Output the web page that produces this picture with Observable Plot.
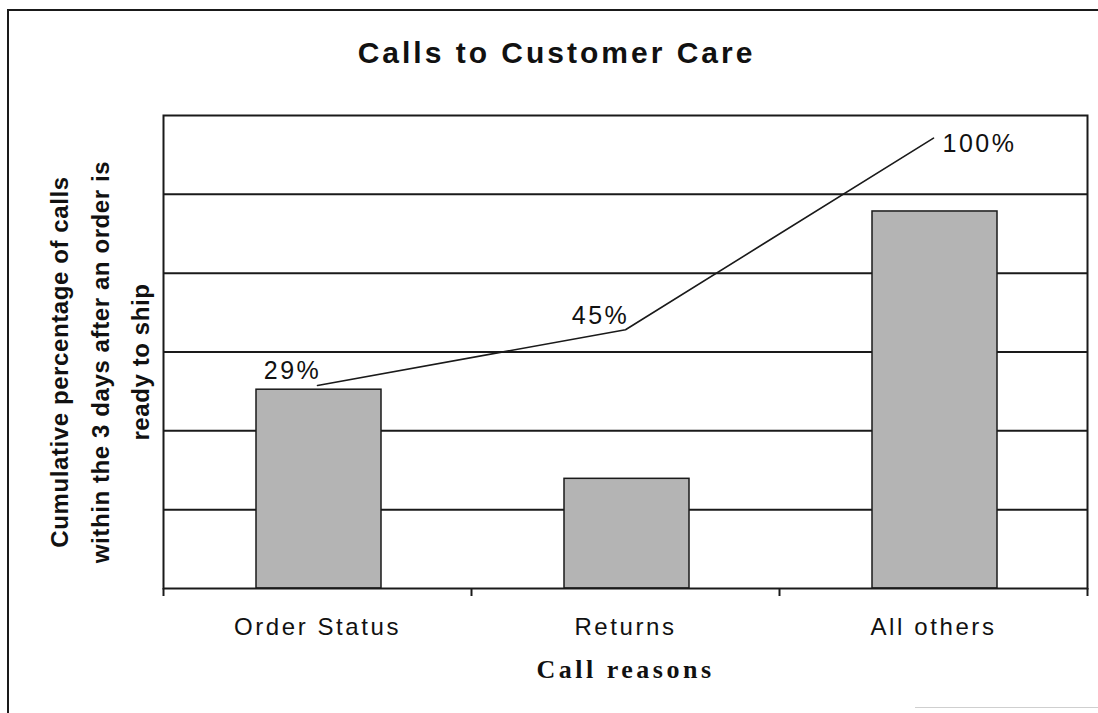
<!DOCTYPE html>
<html>
<head>
<meta charset="utf-8">
<script src="https://cdn.jsdelivr.net/npm/d3@7"></script>
<script src="https://cdn.jsdelivr.net/npm/@observablehq/plot@0.6"></script>
<style>
html, body { margin: 0; padding: 0; background: #fff; }
#wrap { position: relative; width: 1098px; height: 713px; overflow: hidden; background: #fff; }
#wrap svg { position: absolute; left: 0; top: 0; }
#edgeLeft { position: absolute; left: 7px; top: 9px; width: 2px; height: 720px; background: #1a1a1a; }
#edgeTop { position: absolute; left: 7px; top: 9px; width: 1100px; height: 2px; background: #1a1a1a; }
#edgeBottom { position: absolute; left: 915px; top: 707px; width: 190px; height: 1px; background: #cfcfcf; }
</style>
</head>
<body>
<div id="wrap"></div>
<script>
// ---- data ----
const chartTitle = "Calls to Customer Care";
const xLabel = "Call reasons";
const yLabelLines = ["Cumulative percentage of calls", "within the 3 days after an order is", "ready to ship"];
const categories = ["Order Status", "Returns", "All others"];
const shares = [29, 16, 55];        // share of calls per reason (bars, primary axis, %)
const cumulative = [29, 45, 100];   // cumulative share (line, hidden secondary axis, %)
const yDomain = [0, 69];            // primary (hidden) axis range
const gridTicks = [11.5, 23, 34.5, 46, 57.5];
const secondaryDomain = [-29.3, 106.5]; // hidden secondary axis range for the cumulative line

// ---- build ----
const rows = categories.map((c, i) => ({category: c, idx: i, share: shares[i], cum: cumulative[i]}));
const secondary = d3.scaleLinear().domain(secondaryDomain).range(yDomain);
const boundaries = d3.range(categories.length + 1);
const centers = categories.map((c, i) => i + 0.5);
const ink = "#1a1a1a";

const chart = Plot.plot({
  width: 1098,
  height: 713,
  marginLeft: 163,
  marginRight: 11,
  marginTop: 115,
  marginBottom: 125,
  style: {fontFamily: "'Liberation Sans', Arial, sans-serif", background: "transparent", color: "#111", overflow: "visible"},
  x: {type: "linear", domain: [0, categories.length], axis: null, label: null},
  y: {domain: yDomain, axis: null, label: null},
  marks: [
    Plot.ruleY(gridTicks, {stroke: ink, strokeWidth: 2}),
    Plot.rectY(rows, {x1: "idx", x2: d => d.idx + 1, y: "share", insetLeft: 93, insetRight: 90,
      fill: "#b4b4b4", stroke: ink, strokeWidth: 1.5}),
    Plot.frame({stroke: ink, strokeWidth: 2}),
    Plot.axisX(boundaries, {tickSize: 8, tickFormat: () => "", label: null, stroke: ink, strokeWidth: 2}),
    Plot.axisX(centers, {tickSize: 0, tickPadding: 29, label: null, tickFormat: v => categories[Math.floor(v)],
      fontSize: 24, fill: "#111"}),
    Plot.line(rows, {x: d => d.idx + 0.5, y: d => secondary(d.cum), stroke: ink, strokeWidth: 1.6}),
    Plot.text(rows.slice(0, 2), {x: d => d.idx + 0.5, y: d => secondary(d.cum), text: d => d.cum + "%",
      dx: -25, dy: -6, lineAnchor: "bottom", fontSize: 25, fill: "#111"}),
    Plot.text(rows.slice(2), {x: d => d.idx + 0.5, y: d => secondary(d.cum), text: d => d.cum + "%",
      textAnchor: "start", dx: 9, dy: 6, lineAnchor: "middle", fontSize: 25, fill: "#111"}),
    Plot.text([chartTitle], {frameAnchor: "top", dx: -69, dy: -53, lineAnchor: "bottom",
      fontSize: 30, fontWeight: "bold", fill: "#111"}),
    Plot.text([yLabelLines.join("\n")], {frameAnchor: "left", rotate: -90, textAnchor: "middle", dx: -68, dy: 10,
      lineAnchor: "middle", lineHeight: 1.7, fontSize: 24, fontWeight: "bold", fill: "#111"}),
    Plot.text([xLabel], {frameAnchor: "bottom", dy: 89, lineAnchor: "bottom",
      fontFamily: "'Liberation Serif', 'Times New Roman', serif", fontSize: 26, fontWeight: "bold", fill: "#111"})
  ]
});

// letter spacing to mimic the wide rendering of the original
const spacing = new Map([[chartTitle, "3px"], [xLabel, "3.5px"]]);
categories.forEach(c => spacing.set(c, "2.6px"));
cumulative.forEach(v => spacing.set(v + "%", "2.5px"));
chart.querySelectorAll("text").forEach(t => {
  const s = t.textContent;
  if (spacing.has(s)) t.style.letterSpacing = spacing.get(s);
  else if (s.startsWith(yLabelLines[0])) t.style.letterSpacing = "0.6px";
});

const wrap = document.getElementById("wrap");
wrap.appendChild(chart);
["edgeLeft", "edgeTop", "edgeBottom"].forEach(id => {
  const d = document.createElement("div");
  d.id = id;
  wrap.appendChild(d);
});
</script>
</body>
</html>
